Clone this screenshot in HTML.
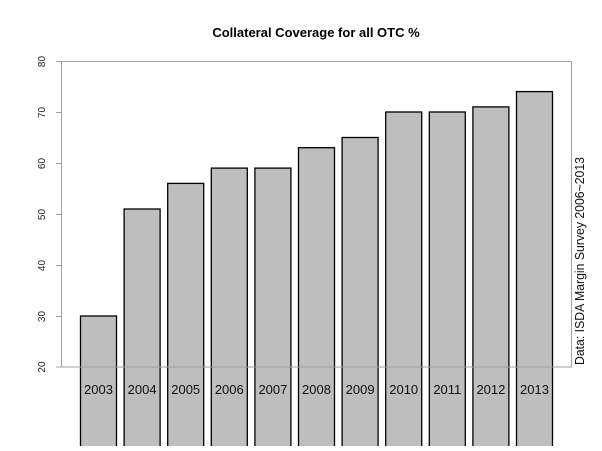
<!DOCTYPE html>
<html><head><meta charset="utf-8"><style>body{margin:0;background:#fff}</style></head><body>
<svg width="602" height="446" xmlns="http://www.w3.org/2000/svg" font-family="Liberation Sans, sans-serif">
<rect width="602" height="446" fill="#fff"/>
<text x="316" y="37" text-anchor="middle" font-size="13" font-weight="bold">Collateral Coverage for all OTC %</text>
<g id="bars" fill="#bebebe" stroke="#000" stroke-width="1.3">
<rect x="80.5" y="316" width="36" height="140"/>
<rect x="124.1" y="209" width="36" height="247"/>
<rect x="167.7" y="183.4" width="36" height="272.6"/>
<rect x="211.3" y="168.1" width="36" height="287.9"/>
<rect x="254.9" y="168.1" width="36" height="287.9"/>
<rect x="298.5" y="147.7" width="36" height="308.3"/>
<rect x="342.1" y="137.5" width="36" height="318.5"/>
<rect x="385.7" y="112" width="36" height="344"/>
<rect x="429.3" y="112" width="36" height="344"/>
<rect x="472.9" y="106.9" width="36" height="349.1"/>
<rect x="516.5" y="91.6" width="36" height="364.4"/>
</g>
<rect x="61.5" y="61.5" width="510" height="305.5" fill="none" stroke="#a0a0a0" stroke-width="1"/>
<g stroke="#a0a0a0">
<line x1="56" x2="61.5" y1="61.5" y2="61.5"/><line x1="56" x2="61.5" y1="112.5" y2="112.5"/>
<line x1="56" x2="61.5" y1="163.5" y2="163.5"/><line x1="56" x2="61.5" y1="214.5" y2="214.5"/>
<line x1="56" x2="61.5" y1="265.5" y2="265.5"/><line x1="56" x2="61.5" y1="316.5" y2="316.5"/>
<line x1="56" x2="61.5" y1="367" y2="367"/>
</g>
<g font-size="10" text-anchor="middle" fill="#222">
<text transform="translate(45,61.5) rotate(-90)">80</text>
<text transform="translate(45,112.5) rotate(-90)">70</text>
<text transform="translate(45,163.5) rotate(-90)">60</text>
<text transform="translate(45,214.5) rotate(-90)">50</text>
<text transform="translate(45,265.5) rotate(-90)">40</text>
<text transform="translate(45,316.5) rotate(-90)">30</text>
<text transform="translate(45,367) rotate(-90)">20</text>
</g>
<g font-size="13" text-anchor="middle" fill="#111">
<text x="98.5" y="394">2003</text><text x="142.1" y="394">2004</text><text x="185.7" y="394">2005</text>
<text x="229.3" y="394">2006</text><text x="272.9" y="394">2007</text><text x="316.5" y="394">2008</text>
<text x="360.1" y="394">2009</text><text x="403.7" y="394">2010</text><text x="447.3" y="394">2011</text>
<text x="490.9" y="394">2012</text><text x="534.5" y="394">2013</text>
</g>
<text transform="translate(584,261) rotate(-90)" font-size="13" text-anchor="middle" textLength="208" lengthAdjust="spacingAndGlyphs" fill="#111">Data: ISDA Margin Survey 2006~2013</text>
</svg>
</body></html>
